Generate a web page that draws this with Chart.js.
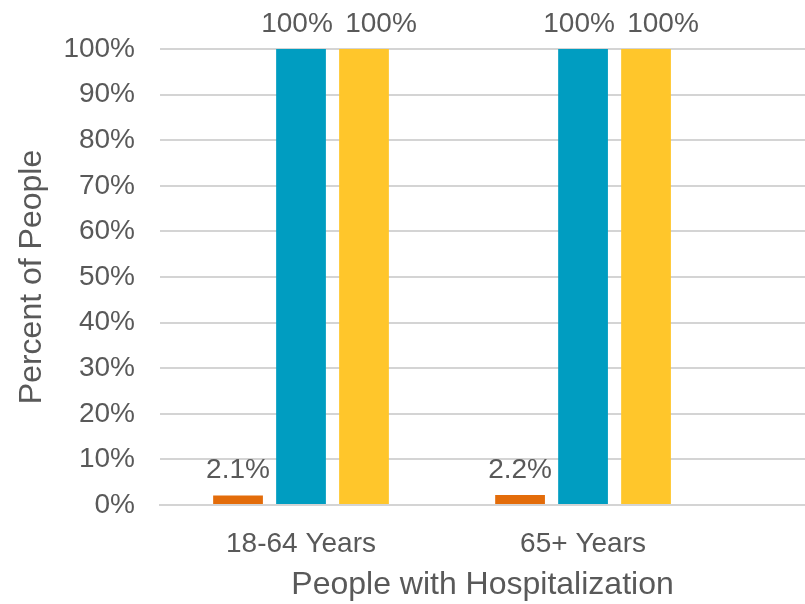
<!DOCTYPE html>
<html>
<head>
<meta charset="utf-8">
<script src="https://cdn.jsdelivr.net/npm/chart.js@4"></script>
<style>
  body { margin: 0; background: #fff; }
  canvas { display: block; }
</style>
</head>
<body>
<canvas id="hospChart" width="805" height="604"></canvas>
<script>
const categories = ['18-64 Years', '65+ Years'];
const seriesOrange = [2.1, 2.2];
const seriesBlue = [100, 100];
const seriesYellow = [100, 100];
const yTicks = [0, 10, 20, 30, 40, 50, 60, 70, 80, 90, 100];

const textColor = '#595959';
const gridColor = '#D4D4D4';
const fontFamily = '"Liberation Sans", Arial, sans-serif';

function toPoints(arr) {
    return arr.map((v, i) => ({ x: i, y: v }));
}

// value labels above each bar (nudged sideways so the 100% ones don't collide)
const labelShift = [0, -4, 17];

const barLabels = {
    id: 'barLabels',
    afterDatasetsDraw(chart) {
        const ctx = chart.ctx;
        ctx.save();
        ctx.font = '28px ' + fontFamily;
        ctx.fillStyle = textColor;
        ctx.textAlign = 'center';
        ctx.textBaseline = 'alphabetic';
        chart.data.datasets.forEach((ds, di) => {
            chart.getDatasetMeta(di).data.forEach((el, i) => {
                ctx.fillText(ds.data[i].y + '%', el.x + labelShift[di], el.y - 17);
            });
        });
        ctx.restore();
    }
};

const data = {
    datasets: [
        { label: 'a', data: toPoints(seriesOrange), backgroundColor: '#E36C0A' },
        { label: 'b', data: toPoints(seriesBlue), backgroundColor: '#009DC1' },
        { label: 'c', data: toPoints(seriesYellow), backgroundColor: '#FFC62B' }
    ]
};

const config = {
    type: 'bar',
    data: data,
    plugins: [barLabels],
    options: {
        responsive: false,
        animation: false,
        categoryPercentage: 0.67,
        barPercentage: 0.79,
        layout: { padding: { top: 49, left: 0, right: 0, bottom: 0 } },
        plugins: {
            legend: { display: false },
            tooltip: { enabled: false }
        },
        scales: {
            x: {
                type: 'linear',
                offset: false,
                min: -0.5,
                max: 1.787,
                afterBuildTicks: (s) => { s.ticks = [{ value: 0 }, { value: 1 }]; },
                afterFit: (s) => { s.height = 99; },
                grid: { display: false },
                border: { display: true, color: gridColor, width: 2 },
                ticks: {
                    autoSkip: false,
                    maxRotation: 0,
                    padding: 14,
                    color: textColor,
                    font: { size: 28, family: fontFamily },
                    callback: (v) => categories[v]
                },
                title: {
                    display: true,
                    text: 'People with Hospitalization',
                    color: textColor,
                    font: { size: 32, family: fontFamily },
                    padding: { top: 0, bottom: 0 }
                }
            },
            y: {
                min: 0,
                max: 100,
                afterBuildTicks: (s) => { s.ticks = yTicks.map(v => ({ value: v })); },
                afterFit: (s) => { s.width = 160; },
                grid: { color: gridColor, lineWidth: 2, drawTicks: false },
                border: { display: false },
                ticks: {
                    padding: 25,
                    color: textColor,
                    font: { size: 28, family: fontFamily },
                    callback: (v) => v + '%'
                },
                title: {
                    display: true,
                    text: 'Percent of People',
                    color: textColor,
                    font: { size: 32, family: fontFamily },
                    padding: { top: 13, bottom: 0 }
                }
            }
        }
    }
};

new Chart(document.getElementById('hospChart'), config);
</script>
</body>
</html>
